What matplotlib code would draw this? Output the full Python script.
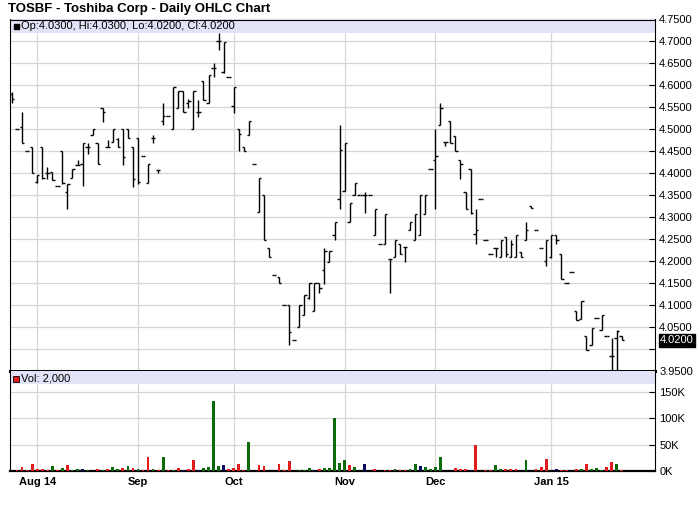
import matplotlib
matplotlib.use('Agg')
import matplotlib.pyplot as plt
import numpy as np
from matplotlib.patches import Rectangle
from matplotlib.collections import LineCollection
import matplotlib.transforms as mtransforms

plt.rcParams['font.family'] = ['Liberation Sans', 'DejaVu Sans']

# ---------------- data ----------------
opens = [4.58, 4.50, 4.505, 4.45, 4.46, 4.38, 4.46, 4.40, 4.403, 4.37,
         4.45, 4.357, 4.39, 4.418, 4.42, 4.46, 4.487, 4.468, 4.548, 4.46,
         4.472, 4.477, 4.50, 4.50, 4.46, 4.48, 4.439, 4.378, 4.48, 4.408,
         4.52, 4.53, 4.50, 4.548, 4.588, 4.56, 4.50, 4.54, 4.61, 4.56,
         4.639, 4.70, 4.63, 4.619, 4.552, 4.50, 4.46, 4.487, 4.421, 4.311,
         4.35, 4.231, 4.169, 4.164, 4.10, 4.10, 4.02, 4.051, 4.078, 4.117,
         4.086, 4.151, 4.179, 4.197, 4.26, 4.342, 4.359, 4.289, 4.35, 4.35,
         4.35, 4.35, 4.26, 4.239, 4.239, 4.204, 4.21, 4.239, 4.232, 4.27,
         4.248, 4.26, 4.308, 4.409, 4.43, 4.51, 4.472, 4.518, 4.484, 4.43,
         4.357, 4.409, 4.262, 4.342, 4.248, 4.216, 4.231, 4.21, 4.254, 4.21,
         4.21, 4.22, 4.248, 4.325, 4.27, 4.231, 4.20, 4.21, 4.26, 4.216,
         4.151, 4.175, 4.086, 4.069, 4.03, 4.01, 4.07, 4.044, 4.029, 3.985,
         4.025, 4.03]
highs = [4.585, 4.50, 4.54, 4.45, 4.46, 4.395, 4.46, 4.414, 4.403, 4.37,
         4.45, 4.375, 4.41, 4.43, 4.47, 4.469, 4.50, 4.468, 4.548, 4.475,
         4.50, 4.481, 4.50, 4.50, 4.46, 4.48, 4.439, 4.42, 4.487, 4.408,
         4.559, 4.53, 4.597, 4.588, 4.588, 4.57, 4.588, 4.567, 4.61, 4.624,
         4.65, 4.72, 4.698, 4.619, 4.597, 4.50, 4.46, 4.519, 4.421, 4.389,
         4.35, 4.231, 4.169, 4.164, 4.10, 4.10, 4.02, 4.10, 4.124, 4.151,
         4.151, 4.151, 4.231, 4.224, 4.289, 4.51, 4.47, 4.332, 4.379, 4.35,
         4.357, 4.35, 4.319, 4.239, 4.308, 4.204, 4.248, 4.239, 4.232, 4.289,
         4.308, 4.35, 4.35, 4.409, 4.50, 4.56, 4.472, 4.518, 4.484, 4.43,
         4.357, 4.409, 4.319, 4.342, 4.248, 4.216, 4.231, 4.248, 4.254, 4.248,
         4.26, 4.22, 4.289, 4.325, 4.27, 4.231, 4.248, 4.26, 4.26, 4.216,
         4.151, 4.175, 4.086, 4.109, 4.03, 4.048, 4.07, 4.078, 4.029, 4.025,
         4.044, 4.03]
lows = [4.56, 4.50, 4.47, 4.45, 4.40, 4.378, 4.388, 4.388, 4.385, 4.37,
        4.376, 4.319, 4.39, 4.418, 4.37, 4.445, 4.487, 4.42, 4.517, 4.46,
        4.472, 4.46, 4.418, 4.481, 4.368, 4.376, 4.439, 4.378, 4.47, 4.40,
        4.51, 4.53, 4.50, 4.548, 4.54, 4.548, 4.50, 4.529, 4.567, 4.559,
        4.619, 4.68, 4.628, 4.619, 4.537, 4.45, 4.45, 4.487, 4.421, 4.311,
        4.249, 4.21, 4.169, 4.151, 4.10, 4.009, 4.02, 4.051, 4.078, 4.113,
        4.086, 4.128, 4.147, 4.197, 4.248, 4.319, 4.359, 4.289, 4.35, 4.35,
        4.31, 4.35, 4.26, 4.239, 4.239, 4.128, 4.21, 4.216, 4.197, 4.27,
        4.248, 4.26, 4.308, 4.409, 4.319, 4.51, 4.461, 4.468, 4.45, 4.388,
        4.319, 4.308, 4.239, 4.342, 4.248, 4.216, 4.21, 4.21, 4.21, 4.21,
        4.21, 4.21, 4.248, 4.32, 4.27, 4.231, 4.19, 4.208, 4.239, 4.159,
        4.151, 4.175, 4.067, 4.069, 3.998, 4.01, 4.07, 4.044, 4.029, 3.95,
        3.95, 4.02]
closes = [4.57, 4.50, 4.47, 4.45, 4.40, 4.395, 4.39, 4.40, 4.385, 4.37,
          4.378, 4.375, 4.41, 4.418, 4.47, 4.46, 4.50, 4.42, 4.54, 4.46,
          4.50, 4.46, 4.437, 4.481, 4.387, 4.38, 4.439, 4.42, 4.48, 4.408,
          4.53, 4.53, 4.597, 4.588, 4.54, 4.565, 4.588, 4.54, 4.567, 4.624,
          4.639, 4.70, 4.698, 4.619, 4.597, 4.49, 4.45, 4.519, 4.421, 4.389,
          4.249, 4.21, 4.169, 4.151, 4.10, 4.038, 4.02, 4.10, 4.124, 4.151,
          4.151, 4.138, 4.224, 4.224, 4.289, 4.453, 4.47, 4.332, 4.379, 4.35,
          4.35, 4.35, 4.319, 4.239, 4.308, 4.204, 4.248, 4.216, 4.232, 4.289,
          4.308, 4.35, 4.35, 4.409, 4.44, 4.549, 4.472, 4.468, 4.45, 4.421,
          4.319, 4.31, 4.27, 4.342, 4.248, 4.216, 4.231, 4.248, 4.216, 4.24,
          4.26, 4.21, 4.27, 4.32, 4.27, 4.231, 4.248, 4.26, 4.248, 4.159,
          4.151, 4.175, 4.067, 4.109, 3.998, 4.048, 4.07, 4.078, 4.029, 3.985,
          4.04, 4.02]
volumes = [0, 2000, 7500, 2000, 14000, 4000, 4000, 2000, 9000, 2000,
           6000, 11000, 2000, 3000, 3000, 2000, 0, 4000, 2000, 4000,
           7000, 3000, 6000, 9000, 5000, 4000, 2000, 26000, 4000, 2000,
           26000, 2000, 2000, 6000, 2000, 4000, 21000, 2000, 6000, 7500,
           133000, 9000, 11000, 4000, 6000, 13000, 2000, 56000, 0, 11000,
           9000, 0, 0, 13000, 2000, 19000, 0, 2000, 2000, 6000,
           2000, 4000, 6000, 6000, 101000, 15000, 21000, 11000, 7500, 0,
           13000, 0, 4000, 0, 2000, 2000, 4000, 2000, 2000, 4000,
           13000, 9000, 7500, 4000, 7500, 26000, 0, 0, 6000, 4000,
           4000, 2000, 50000, 0, 2000, 2000, 11000, 4000, 4000, 4000,
           4000, 0, 21000, 0, 4000, 7500, 22000, 0, 4000, 2000,
           2000, 0, 4000, 4000, 13000, 4000, 6000, 2000, 7500, 17000,
           13000, 2000]
vol_dir = ['n', 'd', 'd', 'd', 'd', 'd', 'd', 'd', 'u', 'd',
           'u', 'd', 'u', 'u', 'n', 'u', 'n', 'd', 'u', 'd',
           'u', 'u', 'd', 'u', 'd', 'u', 'd', 'd', 'u', 'd',
           'u', 'd', 'u', 'd', 'n', 'd', 'd', 'n', 'u', 'u',
           'u', 'u', 'n', 'd', 'd', 'd', 'd', 'u', 'n', 'd',
           'd', 'n', 'n', 'd', 'd', 'd', 'n', 'u', 'u', 'u',
           'n', 'd', 'u', 'u', 'u', 'u', 'u', 'd', 'u', 'n',
           'n', 'n', 'd', 'n', 'd', 'd', 'u', 'd', 'd', 'u',
           'u', 'n', 'u', 'u', 'u', 'u', 'n', 'n', 'd', 'd',
           'd', 'n', 'd', 'n', 'd', 'd', 'u', 'u', 'd', 'd',
           'd', 'n', 'u', 'n', 'd', 'd', 'd', 'n', 'n', 'd',
           'd', 'n', 'd', 'u', 'd', 'u', 'u', 'u', 'd', 'd',
           'u', 'd']
month_labels = ['Aug 14', 'Sep', 'Oct', 'Nov', 'Dec', 'Jan 15']
month_bar_index = [5, 25, 44, 66, 84, 107]
price_ticks = [3.95, 4.00, 4.05, 4.10, 4.15, 4.20, 4.25, 4.30, 4.35, 4.40,
               4.45, 4.50, 4.55, 4.60, 4.65, 4.70, 4.75]
vol_ticks = [0, 50000, 100000, 150000]
vol_tick_labels = ['0K', '50K', '100K', '150K']
title = 'TOSBF - Toshiba Corp - Daily OHLC Chart'
last = dict(op=4.03, hi=4.03, lo=4.02, cl=4.02, vol=2000)

# ---------------- layout ----------------
W, H = 700, 512
fig = plt.figure(figsize=(W / 100, H / 100), dpi=100)
fig.patch.set_facecolor('white')


def rect(x0, y0, x1, y1):
    return [x0 / W, 1 - y1 / H, (x1 - x0) / W, (y1 - y0) / H]


axp = fig.add_axes(rect(10, 19.5, 655, 371))
axv = fig.add_axes(rect(10, 371, 655, 471), sharex=axp)

n = len(opens)
xs = np.arange(n)
grid_col = '#d6d6d6'
tick_len = 0.45

# ---------------- price panel ----------------
segs = []
for i in range(n):
    segs.append([(xs[i], lows[i]), (xs[i], highs[i])])
    segs.append([(xs[i] - tick_len, opens[i]), (xs[i], opens[i])])
    segs.append([(xs[i], closes[i]), (xs[i] + tick_len, closes[i])])
lc = LineCollection(segs, colors='black', linewidths=1.0, zorder=3,
                    capstyle='butt')
axp.add_collection(lc)

axp.set_xlim(-0.4, 127.6)
axp.set_ylim(3.95, 4.75)
axp.set_yticks(price_ticks)
axp.set_yticklabels(['' if abs(t - 4.00) < 1e-9 else f'{t:.4f}' for t in price_ticks])
axp.yaxis.tick_right()
axp.tick_params(axis='y', direction='in', length=4, width=0.8, pad=3,
                labelsize=8, colors='black')
axp.tick_params(axis='x', length=0, labelbottom=False)
axp.set_xticks(month_bar_index)
axp.grid(True, color=grid_col, linewidth=0.9, zorder=0)
axp.set_axisbelow(True)
for side in ['left', 'top', 'right']:
    axp.spines[side].set_color('black')
    axp.spines[side].set_linewidth(0.8)
axp.spines['bottom'].set_linewidth(2.2)
axp.spines['bottom'].set_color('black')

# header band
band_h = 13 / 351.5
axp.add_patch(Rectangle((0, 1 - band_h), 1, band_h, transform=axp.transAxes,
                        facecolor='#e3e3f8', edgecolor='none', zorder=2,
                        clip_on=False))
axp.plot([6 / 645], [1 - band_h / 2], marker='s', ms=3.6, color='black',
         transform=axp.transAxes, zorder=4, clip_on=False)
axp.text(11 / 645, 1 - band_h / 2,
         f"Op:{last['op']:.4f}, Hi:{last['hi']:.4f}, Lo:{last['lo']:.4f}, Cl:{last['cl']:.4f}",
         transform=axp.transAxes, fontsize=8, va='center', ha='left', zorder=4)

# last price label
axp.annotate(f"{closes[-1]:.4f}", xy=(1.0, closes[-1]),
             xycoords=('axes fraction', 'data'), xytext=(3.5, 0),
             textcoords='offset points', va='center', ha='left',
             fontsize=8, color='white', zorder=6, annotation_clip=False,
             bbox=dict(boxstyle='square,pad=0.12', fc='black', ec='black'))

# ---------------- volume panel ----------------
colmap = {'u': '#0b6b0b', 'd': '#e01c1c', 'n': '#0a0a5e'}
axv.bar(xs, volumes, width=0.55, color=[colmap[d] for d in vol_dir],
        zorder=3, linewidth=0)
axv.set_ylim(0, 190000)
axv.set_yticks(vol_ticks)
axv.set_yticklabels(vol_tick_labels)
axv.yaxis.tick_right()
axv.tick_params(axis='y', direction='in', length=4, width=0.8, pad=3,
                labelsize=8, colors='black')
axv.set_xticks(month_bar_index)
axv.set_xticklabels(month_labels, fontsize=8, fontweight='bold')
axv.tick_params(axis='x', length=0, pad=4)
axv.grid(True, color=grid_col, linewidth=0.9, zorder=0)
axv.set_axisbelow(True)
for side in ['left', 'right']:
    axv.spines[side].set_color('black')
    axv.spines[side].set_linewidth(0.8)
axv.spines['top'].set_visible(False)
axv.spines['bottom'].set_linewidth(1.6)
axv.spines['bottom'].set_color('black')

vband = 13 / 100
axv.add_patch(Rectangle((0, 1 - vband), 1, vband, transform=axv.transAxes,
                        facecolor='#e3e3f8', edgecolor='none', zorder=2))
axv.plot([6 / 645], [1 - vband / 2 - 0.01], marker='s', ms=4, color='#e01c1c',
         markeredgecolor='black', markeredgewidth=0.6,
         transform=axv.transAxes, zorder=4)
axv.text(11 / 645, 1 - vband / 2 - 0.01, f"Vol: {last['vol']:,}",
         transform=axv.transAxes, fontsize=8, va='center', ha='left', zorder=4)

# ---------------- title ----------------
fig.text(8 / W, 1 - 9 / H, title, fontsize=9.5, fontweight='bold',
         va='center', ha='left')

fig.savefig('out.png', dpi=100, facecolor='white')
